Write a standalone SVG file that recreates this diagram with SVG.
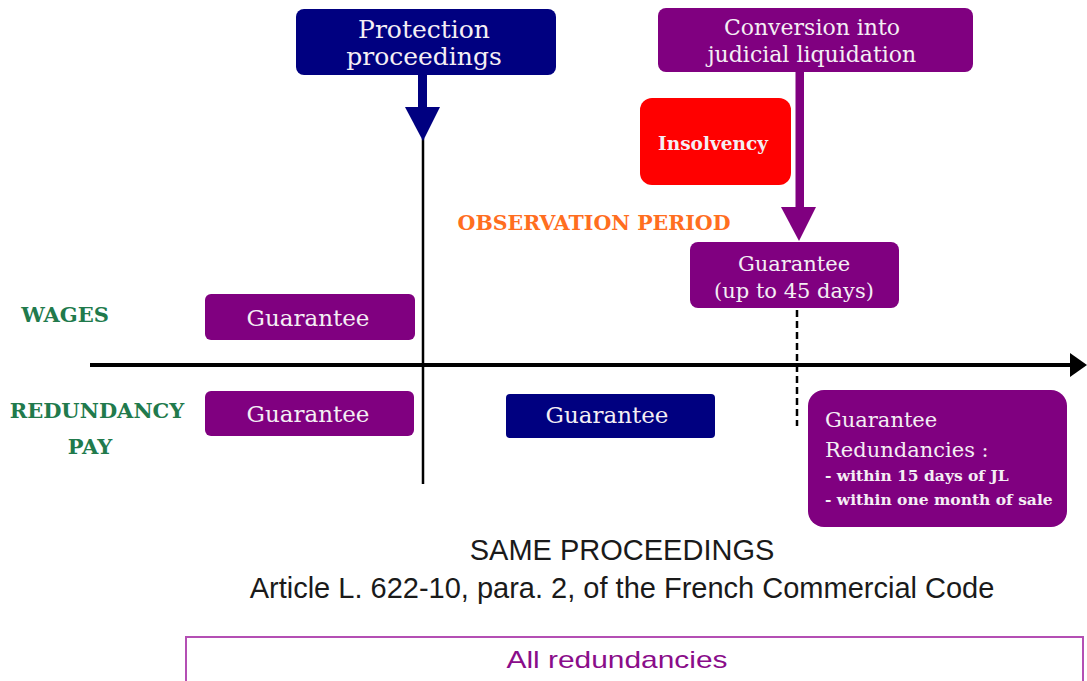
<svg xmlns="http://www.w3.org/2000/svg" width="1087" height="681" viewBox="0 0 1087 681">
<style>
.purple{fill:#800080}
.navy{fill:#000080}
.red{fill:#ff0000}
.bt{font-family:"DejaVu Serif","Liberation Serif",serif;fill:#f4eef4;text-anchor:middle}
.st{text-anchor:start}
.lbl{font-family:"DejaVu Serif","Liberation Serif",serif;font-weight:bold;fill:#217a4c;text-anchor:middle;font-size:21px}
.sans{font-family:"Liberation Sans",Arial,sans-serif;fill:#1a1a1a;text-anchor:middle;font-size:29px}
</style>
<rect width="1087" height="681" fill="#fff"/>
<g id="connectors">
<line x1="423" y1="138" x2="423" y2="484" stroke="#000" stroke-width="2.5"/>
<line x1="90" y1="365" x2="1072" y2="365" stroke="#000" stroke-width="4"/>
<polygon points="1070,353 1087,365 1070,377" fill="#000"/>
<line x1="797" y1="310" x2="797" y2="426" stroke="#000" stroke-width="2.5" stroke-dasharray="7,4"/>
<rect x="418" y="74" width="9" height="36" class="navy"/>
<polygon points="405,107 440,107 423,141" class="navy"/>
<rect x="795.5" y="71" width="8.5" height="138" class="purple"/>
<polygon points="781,207 816,207 799,241" class="purple"/>
</g>
<g id="protection">
<rect x="296" y="9" width="260" height="66" rx="8" class="navy"/>
<text class="bt" font-size="25" x="424" y="38">Protection</text>
<text class="bt" font-size="25" x="424" y="65">proceedings</text>
</g>
<g id="conversion">
<rect x="658" y="8" width="315" height="64" rx="8" class="purple"/>
<text class="bt" font-size="22" x="812" y="35">Conversion into</text>
<text class="bt" font-size="22" x="812" y="62">judicial liquidation</text>
</g>
<g id="insolvency">
<rect x="640" y="98" width="151" height="87" rx="12" class="red"/>
<text class="bt" font-size="18.5" font-weight="bold" x="713" y="150">Insolvency</text>
</g>
<g id="observation">
<text x="594" y="230" font-family="DejaVu Serif,Liberation Serif,serif" font-weight="bold" font-size="20.5" fill="#ff6e1f" text-anchor="middle">OBSERVATION PERIOD</text>
</g>
<g id="guarantee45">
<rect x="690" y="242" width="209" height="66" rx="8" class="purple"/>
<text class="bt" font-size="21" x="794" y="271">Guarantee</text>
<text class="bt" font-size="21" x="794" y="298">(up to 45 days)</text>
</g>
<g id="wages-label">
<text class="lbl" x="65" y="322">WAGES</text>
</g>
<g id="redundancy-label">
<text class="lbl" x="97" y="418">REDUNDANCY</text>
<text class="lbl" x="90" y="454">PAY</text>
</g>
<g id="wages-guarantee">
<rect x="205" y="294" width="210" height="46" rx="6" class="purple"/>
<text class="bt" font-size="23" x="308" y="326">Guarantee</text>
</g>
<g id="redundancy-guarantee">
<rect x="205" y="391" width="209" height="45" rx="6" class="purple"/>
<text class="bt" font-size="23" x="308" y="422">Guarantee</text>
</g>
<g id="observation-guarantee">
<rect x="506" y="394" width="209" height="44" rx="4" class="navy"/>
<text class="bt" font-size="23" x="607" y="423">Guarantee</text>
</g>
<g id="redundancies-box">
<rect x="808" y="390" width="259" height="137" rx="16" class="purple"/>
<text class="bt st" font-size="21" x="825" y="427">Guarantee</text>
<text class="bt st" font-size="21" x="825" y="457">Redundancies :</text>
<text class="bt st" font-size="15.5" font-weight="bold" x="825" y="481">- within 15 days of JL</text>
<text class="bt st" font-size="15.5" font-weight="bold" x="825" y="505">- within one month of sale</text>
</g>
<g id="caption">
<text class="sans" x="622" y="560">SAME PROCEEDINGS</text>
<text class="sans" x="622" y="598">Article L. 622-10, para. 2, of the French Commercial Code</text>
</g>
<g id="all-redundancies">
<rect x="186" y="637" width="897" height="60" fill="#fff" stroke="#b44fb4" stroke-width="2"/>
<text x="617" y="668" font-family="Liberation Sans,Arial,sans-serif" font-size="24" fill="#8a0d8a" text-anchor="middle" textLength="221" lengthAdjust="spacingAndGlyphs">All redundancies</text>
</g>
</svg>
